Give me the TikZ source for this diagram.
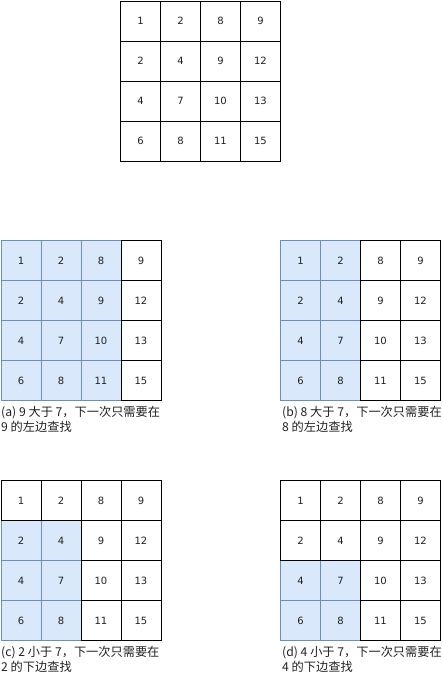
\documentclass[tikz,border=0pt]{standalone}
\usepackage{fontspec}
\setmainfont{DejaVu Sans}
\newfontfamily\cjk{Noto Sans CJK SC}
\definecolor{bluefill}{HTML}{DAE8FC}
\definecolor{blueline}{HTML}{6C8EBF}
\definecolor{txt}{HTML}{222222}
\tikzset{
  cellw/.style={draw=black, fill=white, line width=0.9pt, minimum width=40pt, minimum height=40pt, inner sep=0pt, anchor=north west, font=\fontsize{10}{12}\selectfont, text=txt},
  cellb/.style={cellw, draw=blueline, fill=bluefill},
  captxt/.style={anchor=north west, inner sep=0pt, align=left, font=\cjk\fontsize{12.2}{15}\selectfont, text=txt}
}
\newcommand{\mygrid}[4]{% #1 x, #2 y, #3 name, #4 blue test
  \foreach \r/\row in {0/{1,2,8,9},1/{2,4,9,12},2/{4,7,10,13},3/{6,8,11,15}}{
    \foreach \v [count=\c from 0] in \row {
      \pgfmathtruncatemacro{\isb}{#4}
      \ifnum\isb=1
        \node[cellb] (#3-\r-\c) at ({#1+40*\c},{#2+40*\r}) {\v};
      \fi
    }
  }
  \foreach \r/\row in {0/{1,2,8,9},1/{2,4,9,12},2/{4,7,10,13},3/{6,8,11,15}}{
    \foreach \v [count=\c from 0] in \row {
      \pgfmathtruncatemacro{\isb}{#4}
      \ifnum\isb=0
        \node[cellw] (#3-\r-\c) at ({#1+40*\c},{#2+40*\r}) {\v};
      \fi
    }
  }
}
\begin{document}
\begin{tikzpicture}[x=1pt,y=-1pt]
\useasboundingbox (0,0) rectangle (442,675);
\mygrid{120}{0.5}{t}{0}
\mygrid{0.5}{240}{a}{\c<3}
\mygrid{280}{240}{b}{\c<2}
\mygrid{0.5}{480}{c}{and(\c<2,\r>0)}
\mygrid{280}{480}{d}{and(\c<2,\r>1)}
\node[captxt] (capa) at (1,406.5) {(a) 9 大于 7，下一次只需要在\\9 的左边查找};
\node[captxt] (capb) at (282,406.5) {(b) 8 大于 7，下一次只需要在\\8 的左边查找};
\node[captxt] (capc) at (1,646.5) {(c) 2 小于 7，下一次只需要在\\2 的下边查找};
\node[captxt] (capd) at (282,646.5) {(d) 4 小于 7，下一次只需要在\\4 的下边查找};
\end{tikzpicture}
\end{document}
